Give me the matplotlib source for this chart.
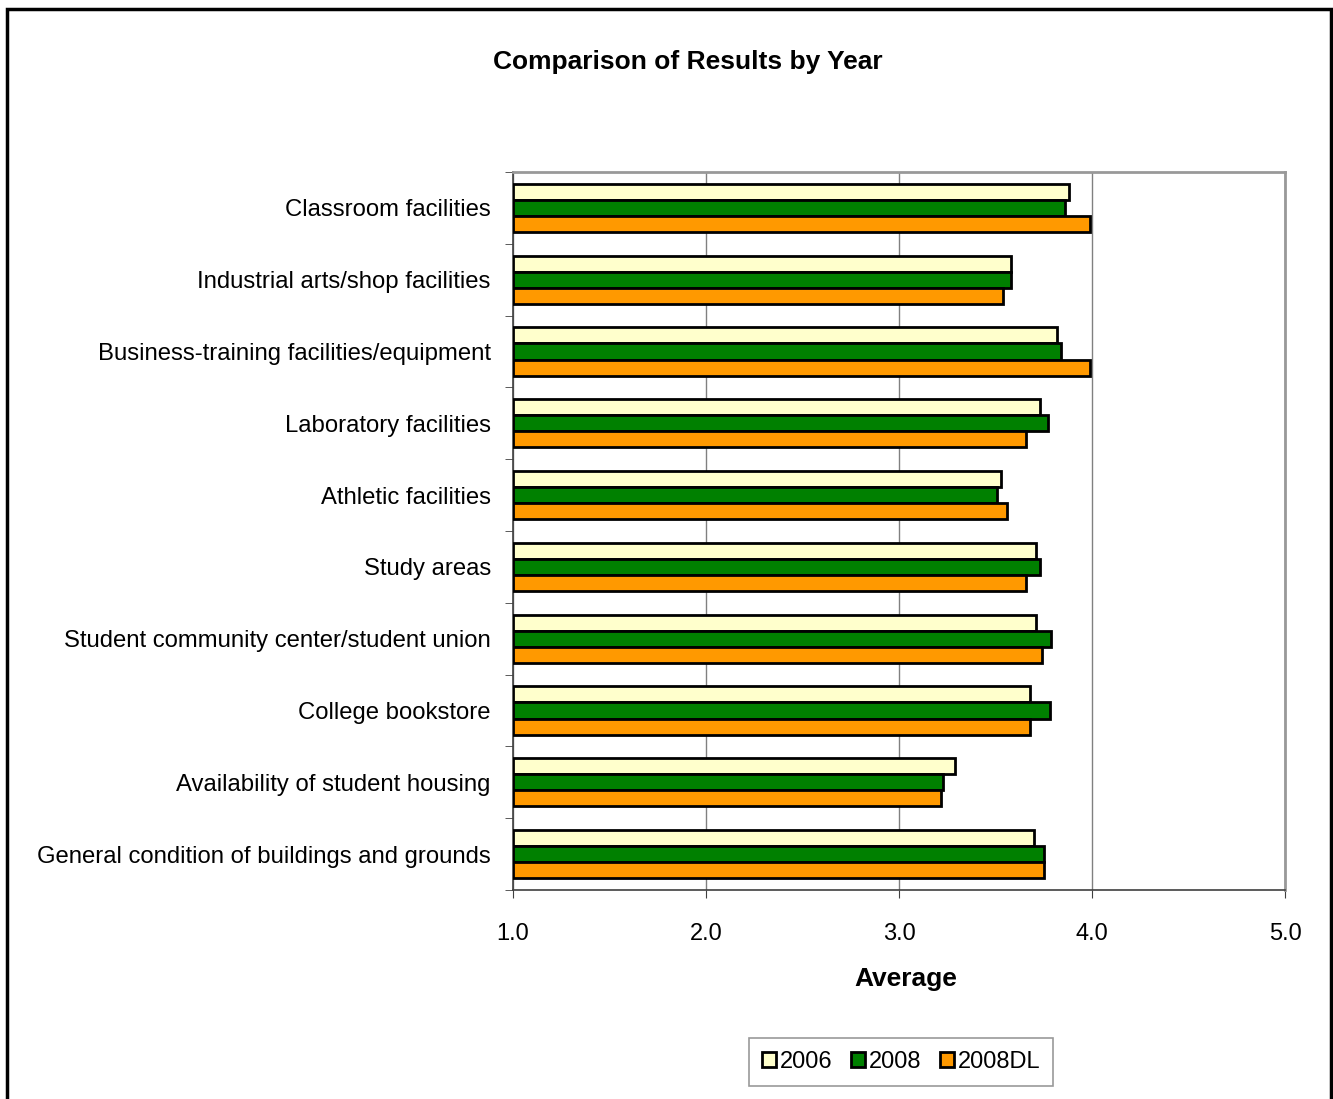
import numpy as np
import matplotlib.pyplot as plt
from matplotlib.patches import Rectangle

plt.rcParams['font.family'] = ['Liberation Sans', 'DejaVu Sans']

# categories top to bottom
categorias = ['Classroom facilities',
              'Industrial arts/shop facilities',
              'Business-training facilities/equipment',
              'Laboratory facilities',
              'Athletic facilities',
              'Study areas',
              'Student community center/student union',
              'College bookstore',
              'Availability of student housing',
              'General condition of buildings and grounds']

anos = ['2006', '2008', '2008DL']
v2006 = [3.88, 3.58, 3.82, 3.73, 3.53, 3.71, 3.71, 3.68, 3.29, 3.70]
v2008 = [3.86, 3.58, 3.84, 3.77, 3.51, 3.73, 3.79, 3.78, 3.23, 3.75]
v2008dl = [3.99, 3.54, 3.99, 3.66, 3.56, 3.66, 3.74, 3.68, 3.22, 3.75]

cores = ['#FFFFCC', '#008000', '#FF9900']
series = [v2006, v2008, v2008dl]

fig = plt.figure(figsize=(13.33, 10.99), dpi=100)
ax = fig.add_axes([513/1333, 1-890/1099, (1285-513)/1333, (890-172)/1099])

n = len(categorias)
y = np.arange(n)
h = 0.223
base = 1.0
for i, (vals, cor, nome) in enumerate(zip(series, cores, anos)):
    ax.barh(y + (i - 1) * h, np.array(vals) - base, left=base, height=h,
            color=cor, edgecolor='black', linewidth=2.0, label=nome, zorder=3)

ax.set_xlim(1, 5)
ax.set_ylim(n - 0.5, -0.5)
ax.set_xticks([1, 2, 3, 4, 5])
ax.set_xticklabels(['1.0', '2.0', '3.0', '4.0', '5.0'], fontsize=17)
ax.set_yticks(y)
ax.set_yticklabels(categorias, fontsize=17.2)
ax.set_yticks(np.arange(-0.5, n, 1), minor=True)
ax.tick_params(axis='y', which='major', length=0, pad=16)
ax.tick_params(axis='y', which='minor', length=6, direction='out', color='#404040')
ax.tick_params(axis='x', length=6, direction='out', pad=18, color='#404040')
ax.grid(axis='x', color='#808080', linewidth=1, zorder=0)

for s in ['top', 'right']:
    ax.spines[s].set_color('#999999')
    ax.spines[s].set_linewidth(2)
for s in ['left', 'bottom']:
    ax.spines[s].set_color('#404040')
    ax.spines[s].set_linewidth(1.2)

fig.text(688/1333, 1-62/1099, 'Comparison of Results by Year', fontsize=19,
         fontweight='bold', ha='center', va='center')
fig.text(906/1333, 1-979/1099, 'Average', fontsize=19, fontweight='bold',
         ha='center', va='center')

leg = fig.legend(loc='center', bbox_to_anchor=(901/1333, 1-1062/1099), ncol=3,
                 fontsize=17, frameon=True, fancybox=False, shadow=False,
                 handlelength=0.6, handleheight=0.6, handletextpad=0.15,
                 columnspacing=0.8, borderpad=0.55, borderaxespad=0)
leg.get_frame().set_edgecolor('#808080')
leg.get_frame().set_linewidth(1.2)

# moldura da figura
fig.patches.append(Rectangle((7/1333, -0.05), (1331-7)/1333, 1.05 - 9/1099,
                             transform=fig.transFigure, fill=False,
                             edgecolor='black', linewidth=2.5))

plt.savefig('out.png', dpi=100)
